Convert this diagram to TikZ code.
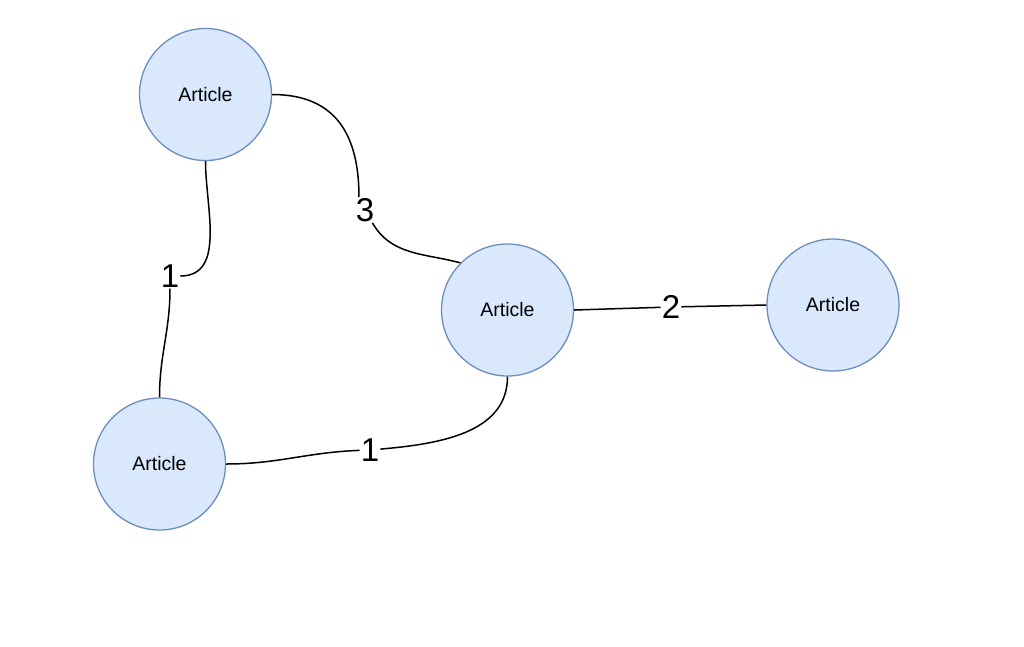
\documentclass[tikz,border=0pt]{standalone}
\usepackage{fontspec}
\setmainfont{Liberation Sans}
\usepackage{xcolor}
\usetikzlibrary{positioning}
\definecolor{artfill}{HTML}{DAE8FC}
\definecolor{artdraw}{HTML}{6C8EBF}
\tikzset{
  article/.style={circle, draw=artdraw, fill=artfill, line width=1.3pt,
                  minimum size=132pt, inner sep=0pt,
                  font=\fontsize{19.5}{22}\selectfont},
  weight/.style={inner sep=1pt, font=\fontsize{33}{36}\selectfont},
  link/.style={line width=1.5pt, draw=black},
}

\begin{document}
\begin{tikzpicture}[x=1pt, y=-1pt]
  \useasboundingbox (0,0) rectangle (1024,646);

  \node[article] (art1) at (205.5,94.5) {Article};
  \node[article] (art2) at (507.5,310) {Article};
  \node[article] (art3) at (833,305) {Article};
  \node[article] (art4) at (159.5,464) {Article};

  \node[weight] (w13) at (170,276) {1};
  \node[weight] (w12) at (365,210) {3};
  \node[weight] (w23) at (671,307) {2};
  \node[weight] (w42) at (370,450) {1};

  \draw[link] (art1.east) to[out=0, in=90, looseness=1.2] (w12.115);
  \draw[link] (w12) to[out=-60, in=165] (art2.135);
  \draw[link] (art1.south) to[out=-90, in=0] (w13);
  \draw[link] (w13) to[out=-90, in=90] (art4.north);
  \draw[link] (art2.east) -- (w23);
  \draw[link] (w23) -- (art3.west);
  \draw[link] (art4.east) to[out=0, in=182] (w42);
  \draw[link] (w42) to[out=5, in=-90] (art2.south);
\end{tikzpicture}
\end{document}
